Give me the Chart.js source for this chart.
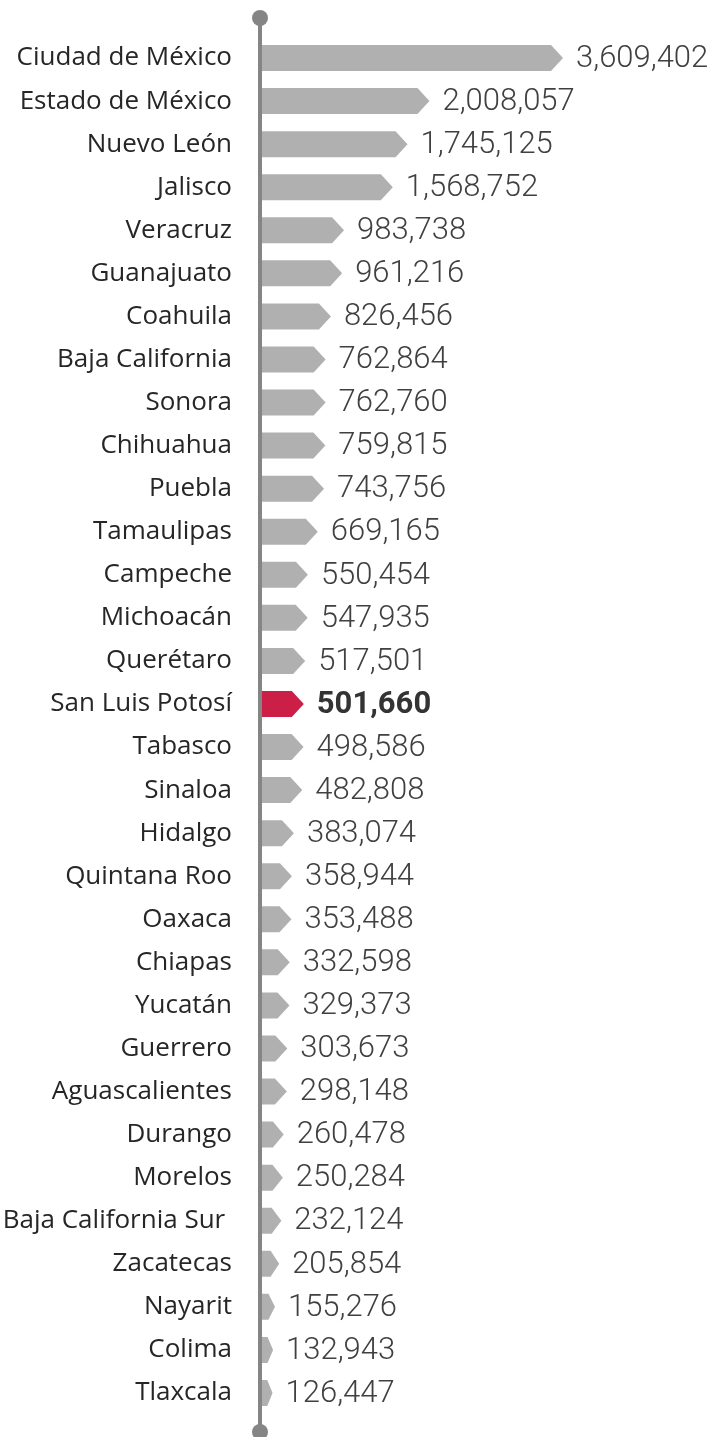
<!DOCTYPE html>
<html>
<head>
<meta charset="utf-8">
<script src="https://cdn.jsdelivr.net/npm/chart.js@4.4.1/dist/chart.umd.min.js"></script>
<style>
  html, body { margin: 0; padding: 0; background: #fff; }
  #wrap { width: 708px; height: 1437px; position: relative; }
</style>
</head>
<body>
<div id="wrap"><canvas id="chart"></canvas></div>
<script>
const estados = [
  'Ciudad de México', 'Estado de México', 'Nuevo León', 'Jalisco', 'Veracruz',
  'Guanajuato', 'Coahuila', 'Baja California', 'Sonora', 'Chihuahua',
  'Puebla', 'Tamaulipas', 'Campeche', 'Michoacán', 'Querétaro',
  'San Luis Potosí', 'Tabasco', 'Sinaloa', 'Hidalgo', 'Quintana Roo',
  'Oaxaca', 'Chiapas', 'Yucatán', 'Guerrero', 'Aguascalientes',
  'Durango', 'Morelos', 'Baja California Sur ', 'Zacatecas', 'Nayarit',
  'Colima', 'Tlaxcala'
];

const valores = [
  3609402, 2008057, 1745125, 1568752, 983738,
  961216, 826456, 762864, 762760, 759815,
  743756, 669165, 550454, 547935, 517501,
  501660, 498586, 482808, 383074, 358944,
  353488, 332598, 329373, 303673, 298148,
  260478, 250284, 232124, 205854, 155276,
  132943, 126447
];

const destacado = 'San Luis Potosí';

const GRIS = '#b0b0b0';
const ROJO = '#cc1f47';

// dibuja las barras como flechas y pone las etiquetas de valor
const flechas = {
  id: 'flechas',
  afterDatasetsDraw(chart) {
    const ctx = chart.ctx;
    const meta = chart.getDatasetMeta(0);

    meta.data.forEach((bar, i) => {
      const x0 = bar.base;
      const x1 = bar.x;
      const h = bar.height;
      const top = bar.y - h / 2;
      const bottom = bar.y + h / 2;
      const punta = Math.min(12, (x1 - x0) * 0.5);
      const esDestacado = estados[i] === destacado;

      ctx.save();
      ctx.fillStyle = esDestacado ? ROJO : GRIS;
      ctx.beginPath();
      ctx.moveTo(x0, top);
      ctx.lineTo(x1 - punta, top);
      ctx.lineTo(x1, bar.y);
      ctx.lineTo(x1 - punta, bottom);
      ctx.lineTo(x0, bottom);
      ctx.closePath();
      ctx.fill();

      ctx.fillStyle = esDestacado ? '#333333' : '#404040';
      ctx.font = esDestacado
        ? '700 31px Roboto'
        : '300 31px Roboto';
      ctx.textAlign = 'left';
      ctx.textBaseline = 'middle';
      ctx.fillText(valores[i].toLocaleString('en-US'), x1 + 13, bar.y + 1);
      ctx.restore();
    });
  }
};

// eje vertical con sus puntos en los extremos
const ejeVertical = {
  id: 'ejeVertical',
  afterDraw(chart) {
    const ctx = chart.ctx;
    const area = chart.chartArea;
    const x = area.left - 2;
    const y0 = 18;
    const y1 = 1432;

    ctx.save();
    ctx.strokeStyle = '#858585';
    ctx.lineWidth = 4;
    ctx.beginPath();
    ctx.moveTo(x, y0);
    ctx.lineTo(x, y1);
    ctx.stroke();

    ctx.fillStyle = '#858585';
    [y0, y1].forEach(y => {
      ctx.beginPath();
      ctx.arc(x, y, 8, 0, Math.PI * 2);
      ctx.fill();
    });
    ctx.restore();
  }
};

new Chart(document.getElementById('chart'), {
  type: 'bar',

  data: {
    labels: estados,
    datasets: [
      {
        data: valores,
        backgroundColor: 'rgba(0,0,0,0)',
        barThickness: 26
      }
    ]
  },

  options: {
    indexAxis: 'y',
    responsive: true,
    maintainAspectRatio: false,
    animation: false,

    layout: {
      padding: {
        top: 36.5,
        bottom: 22.5,
        right: 145,
        left: 0
      }
    },

    plugins: {
      legend: { display: false },
      tooltip: { enabled: false }
    },

    scales: {
      x: {
        display: false,
        min: 0,
        max: 3609402
      },

      y: {
        grid: { display: false, drawTicks: false },
        border: { display: false },
        afterFit: (scale) => {
          scale.width = 262;
          scale.paddingTop = 0;
          scale.paddingBottom = 0;
        },
        ticks: {
          color: '#262626',
          padding: 30,
          autoSkip: false,
          font: {
            family: '"Open Sans"',
            size: 26
          }
        }
      }
    }
  },

  plugins: [flechas, ejeVertical]
});
</script>
</body>
</html>
